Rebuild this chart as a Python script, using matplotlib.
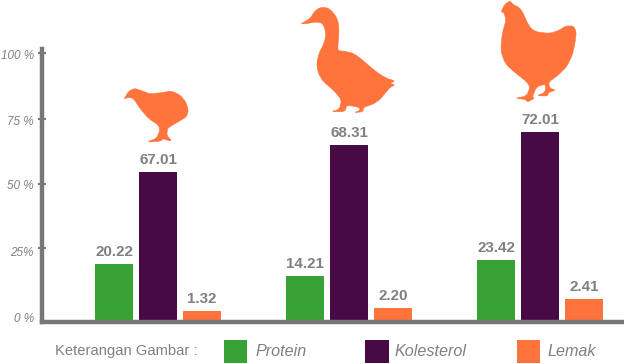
import matplotlib
matplotlib.use('Agg')
from matplotlib import pyplot as plt
from matplotlib.patches import Polygon, Rectangle
import numpy as np

plt.rcParams['font.family'] = ['Liberation Sans', 'DejaVu Sans']

# bar heights as drawn in the picture (they do not follow the printed numbers)
protein = [21.1, 16.6, 22.6]
kolesterol = [55.5, 65.5, 70.4]
lemak = [3.5, 4.6, 8.0]

# numbers printed above the bars
protein_labels = ['20.22', '14.21', '23.42']
kolesterol_labels = ['67.01', '68.31', '72.01']
lemak_labels = ['1.32', '2.20', '2.41']

tick_marks = [27, 51, 75.4, 100]
ylabel_pos = [0.75, 25.8, 50.6, 74.9, 99.3]
ylabels = ['0 %', '25%', '50 %', '75 %', '100 %']

GREEN = '#38a237'
PURPLE = '#470a44'
ORANGE = '#ff733c'
AXIS = '#777777'
TEXT = '#808080'

chick = [(27,58),(40,35),(58,25),(80,32),(105,42),(140,38),(170,33),(195,45),(212,65),(220,90),(215,110),
         (195,122),(165,140),(158,145),(155,165),(170,183),(155,180),(145,176),(135,184),(95,186),(125,175),
         (135,150),(130,135),(100,115),(75,85),(55,55),(40,52)]
duck = [(16,72),(35,62),(48,52),(58,35),(72,24),(90,22),(105,28),(118,42),(128,60),(132,85),(130,120),(128,152),
        (150,154),(175,160),(200,178),(225,200),(250,220),(275,235),(300,243),(285,250),(300,255),(285,262),
        (270,280),(255,298),(235,312),(205,322),(204,335),(178,338),(195,331),(193,322),(155,315),(150,335),
        (108,335),(133,328),(140,300),(115,270),(85,245),(70,220),(65,190),(72,160),(85,135),(92,110),(90,85),
        (80,68),(60,66),(40,70)]
hen = [(18,35),(30,12),(45,3),(55,14),(72,22),(85,40),(95,65),(110,88),(130,97),(165,100),(190,92),(212,78),
       (235,78),(244,95),(240,130),(232,165),(215,200),(190,225),(160,247),(165,265),(182,270),(160,278),
       (157,288),(125,287),(150,278),(153,252),(125,260),(112,290),(118,295),(98,306),(90,298),(60,295),
       (95,288),(105,262),(95,245),(60,218),(30,190),(17,150),(22,100),(33,60),(27,38)]

W, H = 624, 364
fig = plt.figure(figsize=(W / 100, H / 100), dpi=100)

# main axes: spines sit where the picture has them
left, right, top, bottom = 41.7, 624, 49, 322
ax = fig.add_axes([left / W, 1 - bottom / H, (right - left) / W, (bottom - top) / H])
ax.set_xlim(-0.61, 2.44)
ax.set_ylim(-0.75, 101.5)

x = np.arange(3)
offset = 44 / 191
width = 38.5 / 191
series = [(protein, protein_labels, GREEN, -offset),
          (kolesterol, kolesterol_labels, PURPLE, 0),
          (lemak, lemak_labels, ORANGE, offset)]
for values, labels, color, dx in series:
    bars = ax.bar(x + dx, values, width, color=color, linewidth=0)
    ax.bar_label(bars, labels=labels, padding=3.5, fontsize=10.9, fontweight='bold', color=TEXT)

for side in ['top', 'right']:
    ax.spines[side].set_visible(False)
for side in ['left', 'bottom']:
    ax.spines[side].set_color(AXIS)
    ax.spines[side].set_linewidth(3.2)
ax.set_xticks([])
ax.set_yticks(ylabel_pos)
ax.set_yticklabels(ylabels, fontsize=8.5, fontstyle='italic', color=TEXT)
ax.tick_params(axis='y', which='major', length=0, pad=5.5)
ax.set_yticks(tick_marks, minor=True)
ax.tick_params(axis='y', which='minor', length=5.8, width=1.5, direction='inout', color=AXIS)

# overlay in pixel coordinates for the silhouettes and the key
over = fig.add_axes([0, 0, 1, 1])
over.set_xlim(0, W)
over.set_ylim(H, 0)
over.axis('off')
over.patch.set_alpha(0)

def add_shape(pts, dx, dy):
    pts = np.array(pts) / 3 + [dx, dy]
    # one corner cutting pass so the outline is not so angular
    nxt = np.roll(pts, -1, axis=0)
    smooth = np.empty((len(pts) * 2, 2))
    smooth[0::2] = 0.8 * pts + 0.2 * nxt
    smooth[1::2] = 0.2 * pts + 0.8 * nxt
    over.add_patch(Polygon(smooth, closed=True, facecolor=ORANGE, edgecolor=ORANGE, linewidth=0.4))

add_shape(chick, 115, 80)
add_shape(duck, 295, 0)
add_shape(hen, 495, 0)

over.text(55, 351, 'Keterangan Gambar :', fontsize=10.6, color=TEXT, va='center', ha='left')
key = [(223.7, GREEN, 'Protein', 255), (365, PURPLE, 'Kolesterol', 394.7), (516.7, ORANGE, 'Lemak', 547)]
for kx, color, name, tx in key:
    over.add_patch(Rectangle((kx, 339.7), 23.5, 23.3, facecolor=color, edgecolor='none'))
    over.text(tx, 351, name, fontsize=11.6, fontstyle='italic', color=TEXT, va='center', ha='left')

plt.savefig('out.png', dpi=100)
